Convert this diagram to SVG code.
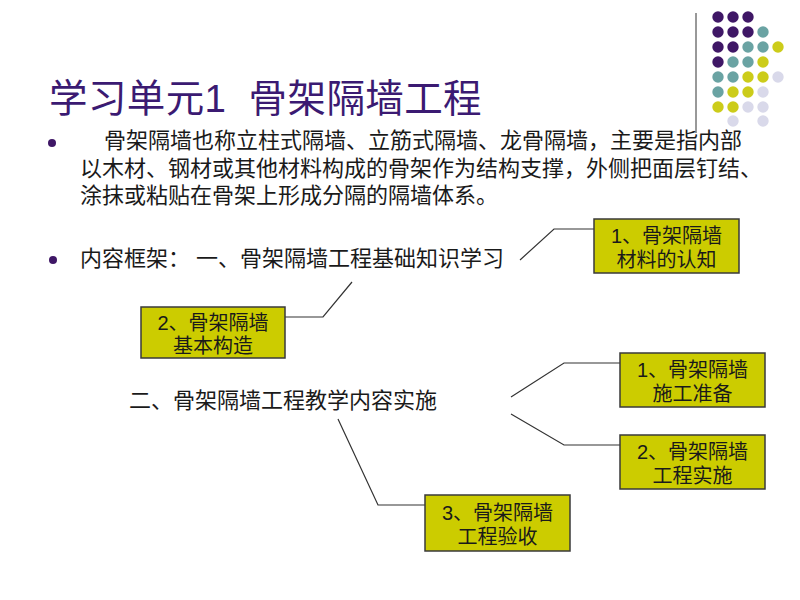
<svg xmlns="http://www.w3.org/2000/svg" width="800" height="600" viewBox="0 0 800 600">
<style>
.t{font-family:"Liberation Sans","Noto Sans CJK SC",sans-serif;fill:#1a1a1a}
.title{font-family:"Liberation Sans","Noto Sans CJK SC",sans-serif;fill:#3b1a72;font-size:38.5px;letter-spacing:0.4px}
.body{font-size:22px}
.bx{fill:#cccc00;stroke:#3a3a3a;stroke-width:1.5}
.bt{font-family:"Liberation Sans","Noto Sans CJK SC",sans-serif;font-size:20px;fill:#1a1a1a;text-anchor:middle}
.c{fill:none;stroke:#333;stroke-width:1.2}
.p{fill:#3f1766}.g{fill:#6aa3a3}.y{fill:#cccc1a}.l{fill:#d9d9ea}
</style>
<rect width="800" height="600" fill="#fff"/>
<g id="decor">
<line x1="696" y1="13" x2="696" y2="133" stroke="#333" stroke-width="1"/>
<circle class="p" cx="718" cy="17" r="5.7"/><circle class="p" cx="733" cy="17" r="5.7"/><circle class="p" cx="748" cy="17" r="5.7"/>
<circle class="p" cx="718" cy="32" r="5.7"/><circle class="p" cx="733" cy="32" r="5.7"/><circle class="p" cx="748" cy="32" r="5.7"/><circle class="g" cx="763" cy="32" r="5.7"/>
<circle class="p" cx="718" cy="47" r="5.7"/><circle class="p" cx="733" cy="47" r="5.7"/><circle class="g" cx="748" cy="47" r="5.7"/><circle class="g" cx="763" cy="47" r="5.7"/><circle class="y" cx="778" cy="47" r="5.7"/>
<circle class="p" cx="718" cy="62" r="5.7"/><circle class="g" cx="733" cy="62" r="5.7"/><circle class="g" cx="748" cy="62" r="5.7"/><circle class="y" cx="763" cy="62" r="5.7"/>
<circle class="g" cx="718" cy="77" r="5.7"/><circle class="g" cx="733" cy="77" r="5.7"/><circle class="y" cx="748" cy="77" r="5.7"/><circle class="y" cx="763" cy="77" r="5.7"/><circle class="l" cx="778" cy="77" r="5.7"/>
<circle class="g" cx="718" cy="92" r="5.7"/><circle class="y" cx="733" cy="92" r="5.7"/><circle class="y" cx="748" cy="92" r="5.7"/><circle class="l" cx="763" cy="92" r="5.7"/>
<circle class="y" cx="718" cy="107" r="5.7"/><circle class="y" cx="733" cy="107" r="5.7"/><circle class="l" cx="748" cy="107" r="5.7"/><circle class="l" cx="763" cy="107" r="5.7"/>
<circle class="l" cx="733" cy="121" r="5.7"/><circle class="l" cx="763" cy="121" r="5.7"/>
</g>
<g id="title"><text class="title" x="49" y="112" xml:space="preserve">学习单元1  骨架隔墙工程</text></g>
<g id="intro">
<circle cx="52" cy="143" r="4" fill="#3f1766"/>
<text class="t body" x="104" y="148">骨架隔墙也称立柱式隔墙、立筋式隔墙、龙骨隔墙，主要是指内部</text>
<text class="t body" x="80" y="176">以木材、钢材或其他材料构成的骨架作为结构支撑，外侧把面层钉结、</text>
<text class="t body" x="80" y="203">涂抹或粘贴在骨架上形成分隔的隔墙体系。</text>
</g>
<g id="root1">
<circle cx="53" cy="260" r="4" fill="#3f1766"/>
<text class="t body" x="80" y="266" xml:space="preserve">内容框架： 一、骨架隔墙工程基础知识学习</text>
</g>
<g id="root2"><text class="t body" x="129" y="408">二、骨架隔墙工程教学内容实施</text></g>
<g id="connectors">
<polyline class="c" points="520,260 554,229 594,229"/>
<polyline class="c" points="352,282 323,317 285,317"/>
<polyline class="c" points="511,397 564,363 620,363"/>
<polyline class="c" points="511,414 564,445 620,445"/>
<polyline class="c" points="338,419 378,505 425,505"/>
</g>
<g id="n1"><rect class="bx" x="594" y="219" width="145" height="54"/><text class="bt" x="666.5" y="243">1、骨架隔墙</text><text class="bt" x="666.5" y="267">材料的认知</text></g>
<g id="n2"><rect class="bx" x="141" y="307" width="144" height="51"/><text class="bt" x="213" y="330">2、骨架隔墙</text><text class="bt" x="213" y="353">基本构造</text></g>
<g id="n3"><rect class="bx" x="620" y="353" width="145" height="54"/><text class="bt" x="692.5" y="377">1、骨架隔墙</text><text class="bt" x="692.5" y="401">施工准备</text></g>
<g id="n4"><rect class="bx" x="620" y="435" width="145" height="54"/><text class="bt" x="692.5" y="459">2、骨架隔墙</text><text class="bt" x="692.5" y="483">工程实施</text></g>
<g id="n5"><rect class="bx" x="425" y="495" width="145" height="56"/><text class="bt" x="497.5" y="520">3、骨架隔墙</text><text class="bt" x="497.5" y="544">工程验收</text></g>
</svg>
